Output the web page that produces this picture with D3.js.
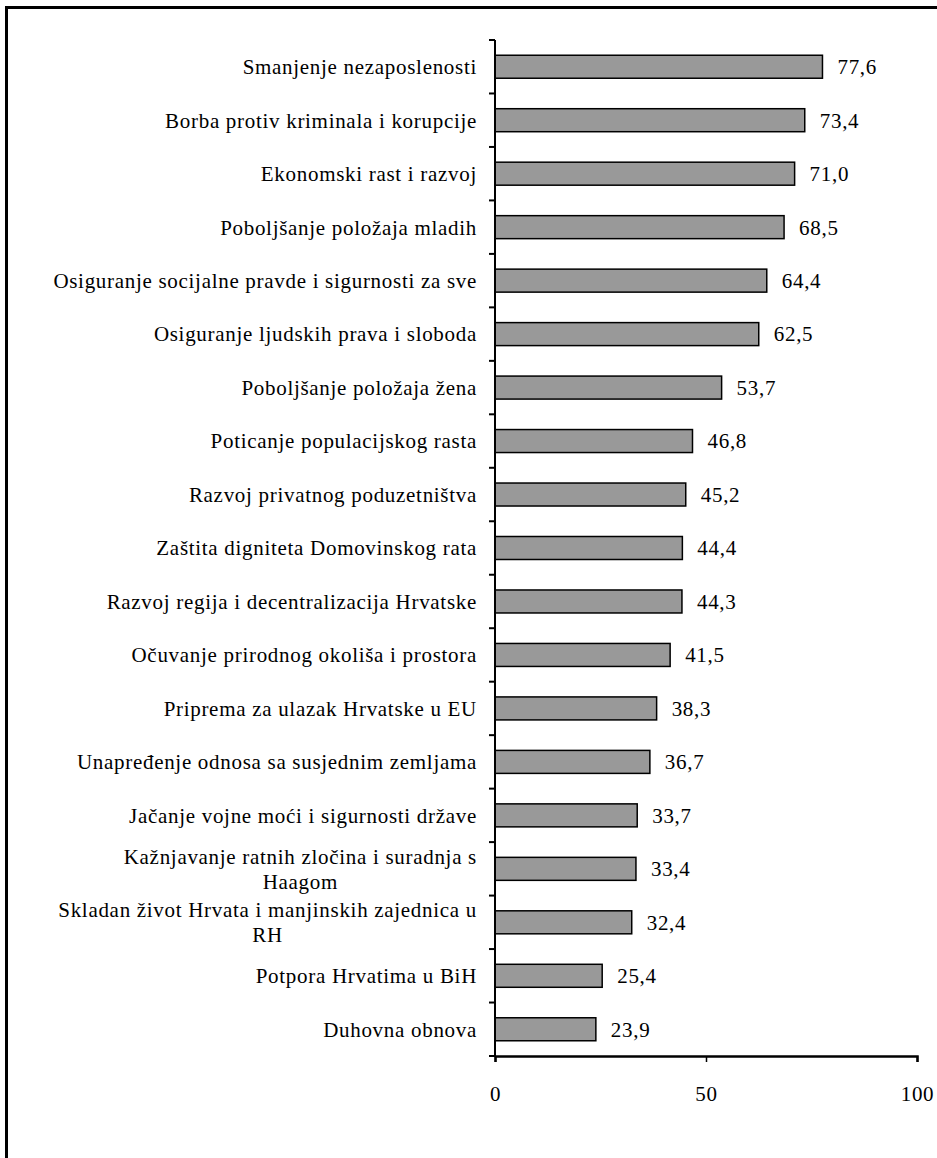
<!DOCTYPE html>
<html>
<head>
<meta charset="utf-8">
<script src="https://cdn.jsdelivr.net/npm/d3@7"></script>
<style>
  html, body { margin: 0; padding: 0; background: #fff; }
  svg { display: block; }
</style>
</head>
<body>
<svg id="chart" width="937" height="1158"></svg>
<script>
const categories = [
  ["Smanjenje nezaposlenosti"],
  ["Borba protiv kriminala i korupcije"],
  ["Ekonomski rast i razvoj"],
  ["Poboljšanje položaja mladih"],
  ["Osiguranje socijalne pravde i sigurnosti za sve"],
  ["Osiguranje ljudskih prava i sloboda"],
  ["Poboljšanje položaja žena"],
  ["Poticanje populacijskog rasta"],
  ["Razvoj privatnog poduzetništva"],
  ["Zaštita digniteta Domovinskog rata"],
  ["Razvoj regija i decentralizacija Hrvatske"],
  ["Očuvanje prirodnog okoliša i prostora"],
  ["Priprema za ulazak Hrvatske u EU"],
  ["Unapređenje odnosa sa susjednim zemljama"],
  ["Jačanje vojne moći i sigurnosti države"],
  ["Kažnjavanje ratnih zločina i suradnja s", "Haagom"],
  ["Skladan život Hrvata i manjinskih zajednica u", "RH"],
  ["Potpora Hrvatima u BiH"],
  ["Duhovna obnova"]
];
const values = [77.6, 73.4, 71.0, 68.5, 64.4, 62.5, 53.7, 46.8, 45.2, 44.4, 44.3, 41.5, 38.3, 36.7, 33.7, 33.4, 32.4, 25.4, 23.9];
const valueLabels = ["77,6","73,4","71,0","68,5","64,4","62,5","53,7","46,8","45,2","44,4","44,3","41,5","38,3","36,7","33,7","33,4","32,4","25,4","23,9"];
const xTicks = [0, 50, 100];

(function () {
// pick an installed serif font
const cv = document.createElement("canvas").getContext("2d");
const probe = "Osiguranje socijalne pravde WMiil 0123";
function w(f) { cv.font = "40px " + f; return cv.measureText(probe).width; }
const candidates = ["Liberation Serif", "Times New Roman", "Tinos", "DejaVu Serif", "Noto Serif"];
let family = "serif";
for (const c of candidates) {
  if (w("'" + c + "', monospace") !== w("monospace")) { family = "'" + c + "'"; break; }
}

const svg = d3.select("#chart");
const mLeft = 495, mRight = 917, mTop = 40, mBottom = 1056;
const fs = 21, ls = 0.7;

// outer frame
svg.append("rect").attr("x", 6.5).attr("y", 7.5).attr("width", 1000).attr("height", 1300)
  .attr("fill", "none").attr("stroke", "#000").attr("stroke-width", 3);

const ids = categories.map((c, i) => i);
const x = d3.scaleLinear().domain([0, 100]).range([mLeft, mRight]);
const pin = 0.57;
const y = d3.scaleBand().domain(ids).range([mTop, mBottom]).paddingInner(pin).paddingOuter(pin / 2);
const step = y.step();

function styleText(sel) {
  return sel.attr("font-family", family).attr("font-size", fs).attr("letter-spacing", ls).attr("fill", "#000");
}

// bars
svg.append("g").selectAll("rect").data(ids).join("rect")
  .attr("x", x(0))
  .attr("y", i => y(i))
  .attr("width", i => x(values[i]) - x(0))
  .attr("height", y.bandwidth())
  .attr("fill", "#999999")
  .attr("stroke", "#000")
  .attr("stroke-width", 1.5);

// value labels
svg.append("g").selectAll("text").data(ids).join("text")
  .attr("x", i => x(values[i]) + 15)
  .attr("y", i => y(i) + y.bandwidth() / 2)
  .attr("dy", "0.35em")
  .call(styleText)
  .text(i => valueLabels[i]);

// category labels
const labelRight = 477;
const lg = svg.append("g");
ids.forEach(i => {
  const lines = categories[i];
  const cy = y(i) + y.bandwidth() / 2;
  if (lines.length === 1) {
    lg.append("text").attr("x", labelRight).attr("y", cy).attr("dy", "0.35em")
      .attr("text-anchor", "end").call(styleText).text(lines[0]);
  } else {
    const t1 = lg.append("text").attr("x", labelRight).attr("y", cy - 12.5).attr("dy", "0.35em")
      .attr("text-anchor", "end").call(styleText).text(lines[0]);
    const wdt = t1.node().getComputedTextLength();
    const cx = labelRight - wdt / 2;
    lg.append("text").attr("x", cx).attr("y", cy + 12.5).attr("dy", "0.35em")
      .attr("text-anchor", "middle").call(styleText).text(lines[1]);
  }
});

// y axis line and ticks at band boundaries
const boundaries = ids.map(i => y(i) - step * pin / 2).concat([mBottom]);
svg.append("line").attr("x1", mLeft).attr("x2", mLeft).attr("y1", mTop).attr("y2", mBottom)
  .attr("stroke", "#000").attr("stroke-width", 2);
svg.append("g").selectAll("line").data(boundaries).join("line")
  .attr("x1", mLeft - 6).attr("x2", mLeft).attr("y1", d => d).attr("y2", d => d)
  .attr("stroke", "#000").attr("stroke-width", 2);

// x axis
const xa = svg.append("g").attr("transform", `translate(0,${mBottom})`)
  .call(d3.axisBottom(x).tickValues(xTicks).tickSize(6).tickPadding(24).tickFormat(d3.format("d")));
xa.select(".domain").attr("stroke", "#000").attr("stroke-width", 2.5);
xa.selectAll(".tick line").attr("stroke", "#000").attr("stroke-width", 1.5);
xa.selectAll(".tick text").call(styleText);
})();
</script>
</body>
</html>
